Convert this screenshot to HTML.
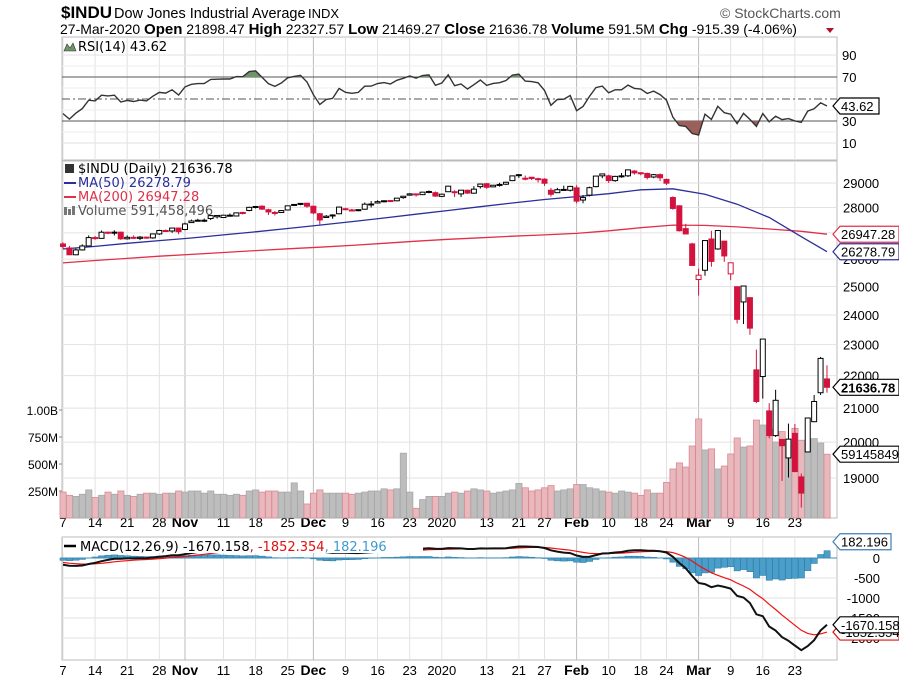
<!DOCTYPE html>
<html><head><meta charset="utf-8"><style>
body{margin:0;background:#fff;}
svg{display:block;font-family:"Liberation Sans",sans-serif;}
</style></head><body>
<svg id="chart" width="899" height="679" xmlns="http://www.w3.org/2000/svg"></svg>
<script>
const preCloses=[27076,27110,27147,27094,26935,26950,26808,26971,26892,26820,26917,26573,26079,26202,26573];
const closes=[26478,26164,26347,26497,26817,26787,27024,26998,27026,26770,26827,26788,26834,26806,26958,27091,27071,27186,27046,
27347,27462,27492,27493,27675,27681,27691,27691,27784,27782,28005,28036,27934,27821,27767,27876,28066,28122,28164,28051,
27783,27503,27650,27677,28015,27909,27881,27911,28132,28135,28235,28268,28239,28377,28455,28551,28515,28621,28645,28462,28538,
28868,28634,28703,28584,28745,28956,28823,28907,28940,29030,29297,29348,29196,29186,29160,28989,28535,28723,28734,28859,28256,
28399,28807,29290,29379,29103,29276,29276,29551,29423,29398,29232,29348,29219,28992,27961,27081,26957,25767,25409,
26703,25917,27091,26121,25865,23851,25018,23553,21201,23186,20189,21237,19899,20087,19174,18592,20705,21201,22552,21637];
const opens=[26573,26420,26164,26347,26497,26817,26787,27024,26998,27026,26770,26827,26788,26834,26806,26958,27091,27071,27186,
27130,27400,27462,27492,27560,27630,27600,27680,27660,27800,27880,28040,28050,27910,27800,27800,27900,28090,28150,28170,
28050,27750,27600,27700,27750,27950,27900,27880,27930,28140,28180,28270,28280,28270,28400,28500,28550,28520,28650,28600,28450,
28640,28640,28550,28700,28580,28850,28970,28840,28920,28950,29100,29320,29200,29240,29180,29160,28700,28600,28730,28700,28800,
28300,28500,28850,29300,29300,29100,29300,29300,29500,29430,29400,29250,29350,29150,28403,28067,27164,26575,25252,
25590,26763,26383,26680,25457,24993,24453,24604,22184,21973,20917,20189,20079,19553,20253,19029,19722,20596,21469,21898];
const highs=[26630,26500,26400,26560,26900,26880,27090,27050,27100,27040,26900,26900,26880,26850,26970,27120,27130,27200,27200,
27400,27520,27550,27560,27700,27700,27710,27760,27800,27830,28030,28060,28090,27950,27860,27900,28070,28140,28170,28180,
28060,27780,27700,27730,28040,27990,27950,27930,28200,28260,28290,28290,28300,28380,28460,28580,28560,28640,28690,28650,28560,
28880,28700,28710,28720,28870,28970,29000,28920,29010,29060,29300,29370,29310,29250,29220,29200,28800,28800,28890,28880,28900,
28500,28850,29300,29400,29350,29300,29420,29570,29540,29450,29430,29380,29400,29180,28450,28090,27350,26620,25650,
26710,27080,27100,26690,25870,24990,25020,24610,22840,23190,21150,21560,20080,20540,20530,19120,20720,21400,22600,22330];
const lows=[26400,26160,26150,26320,26480,26730,26780,26950,26900,26730,26740,26770,26720,26770,26770,26920,27040,27000,26950,
27100,27400,27440,27420,27500,27560,27600,27650,27650,27720,27850,27960,27900,27700,27680,27790,27890,28070,28090,27990,
27730,27330,27580,27550,27730,27900,27840,27850,27910,28000,28180,28200,28220,28250,28350,28480,28440,28510,28580,28430,28420,
28630,28420,28420,28550,28560,28770,28760,28830,28850,28920,29080,29210,29110,29120,29020,28880,28440,28590,28700,28650,28170,
28170,28450,28820,29200,29000,29050,29220,29250,29350,29320,29150,29200,29080,28920,27910,27050,26950,25760,24680,
25390,25720,26350,25900,25230,23710,23690,23330,21150,21290,20110,20150,18920,19010,19160,18210,19720,20580,21400,21470];
const volumes=[240,210,200,220,260,190,210,240,220,250,210,200,220,230,230,220,230,230,250,
240,250,250,230,250,220,220,210,220,210,250,260,240,250,250,240,240,325,250,130,
230,260,230,230,230,230,220,230,240,250,250,270,260,270,600,240,90,170,200,200,200,
230,240,230,250,270,260,250,230,240,250,260,320,280,250,260,280,300,250,260,270,310,
310,280,270,250,240,230,250,240,230,210,260,230,230,330,454,510,472,667,917,
630,640,454,481,593,741,657,667,907,861,820,704,800,700,830,720,720,735,694,591];
const ma50Idx=[0,5,10,15,20,25,30,35,40,45,50,55,60,65,70,75,80,85,90,95,100,105,110,115,119];
const ma50=[26380,26480,26600,26700,26800,26920,27040,27170,27300,27440,27580,27730,27880,28030,28180,28320,28440,28560,28720,28760,28540,28130,27600,26850,26279];
const ma200=[25860,25950,26030,26110,26180,26250,26320,26390,26450,26520,26600,26680,26750,26810,26870,26920,26980,27080,27200,27300,27290,27230,27150,27060,26947];
const dateLabels=["7","14","21","28","Nov","11","18","25","Dec","9","16","23","2020","13","21","27","Feb","10","18","24","Mar","9","16","23"];
const dateIdx=[0,5,10,15,19,25,30,35,39,44,49,54,59,66,71,75,80,85,90,94,99,104,109,114];
const priceTicks=[19000,20000,21000,22000,23000,24000,25000,26000,27000,28000,29000];
const volTicks=[250,500,750,1000];
const volTickLabels=["250M","500M","750M","1.00B"];
const rsiTicks=[10,30,50,70,90];
const macdTicks=[0,-500,-1000,-1500,-2000];

const svg=document.getElementById('chart');
const NS="http://www.w3.org/2000/svg";
const DV='"DejaVu Sans","Liberation Sans",sans-serif';
function mk(tag,attrs,parent){const e=document.createElementNS(NS,tag);for(const k in attrs)e.setAttribute(k,attrs[k]);(parent||svg).appendChild(e);return e;}
function txt(s,x,y,attrs,parent){const e=mk('text',Object.assign({x:x,y:y,'font-size':12,fill:'#000'},attrs||{}),parent);e.textContent=s;return e;}

const L=62,R=837;
const xOf=i=>63+i*6.42;
const yP=p=>183-Math.log(p/29000)*697.5;
const yV=v=>518-v*0.108;
const yR=v=>99-(v-50)*1.1;
const yM=v=>558-v*0.04;
const panels=[[37,160],[161,518],[537,660]];

panels.forEach((p,k)=>{const r=mk('rect',{x:L,y:p[0],width:R-L,height:p[1]-p[0],fill:'#fff',stroke:'#bbb'});

});

dateIdx.forEach((di,k)=>{const x=xOf(di);const month=isNaN(+dateLabels[k]);
panels.forEach(p=>mk('line',{x1:x,x2:x,y1:p[0],y2:p[1],stroke:month?'#bbb':'#e2e2e2','stroke-width':1}));
[527,675].forEach(yy=>{const t=txt(dateLabels[k],x,yy,{'text-anchor':'middle','font-size':month?14:13,'font-weight':month?'bold':'normal'});

});});

rsiTicks.forEach(v=>{const y=yR(v);
if(v===50)mk('line',{x1:L,x2:R,y1:y,y2:y,stroke:'#555','stroke-dasharray':'8,3,2,3'});
else mk('line',{x1:L,x2:R,y1:y,y2:y,stroke:(v===30||v===70)?'#555':'#e2e2e2'});
if(v!==50){const t=txt(String(v),842,y+5,{'font-size':13});

}
});
for(let v=20;v<=80;v+=20){mk('line',{x1:L,x2:R,y1:yR(v),y2:yR(v),stroke:'#eee'});}
const all=preCloses.concat(closes);const off=preCloses.length;
let ag=0,al=0;const rsi=[];
for(let i=1;i<all.length;i++){const d=all[i]-all[i-1];const g=Math.max(d,0),l=Math.max(-d,0);
if(i<=14){ag+=g/14;al+=l/14;}else{ag=(ag*13+g)/14;al=(al*13+l)/14;}
if(i>=14)rsi[i]=100-100/(1+ag/(al||1e-9));}
const rsiPts=closes.map((c,i)=>[xOf(i),yR(rsi[i+off])]);
const defs=mk('defs',{});
const c1=mk('clipPath',{id:'above70'},defs);mk('rect',{x:L,y:37,width:R-L,height:yR(70)-37},c1);
const c2=mk('clipPath',{id:'below30'},defs);mk('rect',{x:L,y:yR(30),width:R-L,height:160-yR(30)},c2);
const lineStr=rsiPts.map(p=>p[0].toFixed(1)+','+p[1].toFixed(1)).join(' ');
const a1=mk('polygon',{points:xOf(0)+','+yR(70)+' '+lineStr+' '+xOf(closes.length-1)+','+yR(70),fill:'#6f9468','clip-path':'url(#above70)'});

const a2=mk('polygon',{points:xOf(0)+','+yR(30)+' '+lineStr+' '+xOf(closes.length-1)+','+yR(30),fill:'#9c5f5a','clip-path':'url(#below30)'});

const rl=mk('polyline',{points:lineStr,fill:'none',stroke:'#333','stroke-width':1.4});

const rsiLast=rsi[all.length-1];

priceTicks.forEach(p=>{const y=yP(p);mk('line',{x1:L,x2:R,y1:y,y2:y,stroke:'#e2e2e2'});
const t=txt(String(p),843,y+5,{'font-size':13});
});
volTicks.forEach((v,k)=>{const y=yV(v);
const t=txt(volTickLabels[k],58,y+5,{'font-size':12,'text-anchor':'end'});

mk('line',{x1:L-3,x2:L,y1:y,y2:y,stroke:'#888'});});

volumes.forEach((v,i)=>{const down=i>0?closes[i]<closes[i-1]:closes[i]<preCloses[preCloses.length-1];
const b=mk('rect',{x:xOf(i)-3,y:yV(v),width:6.2,height:518-yV(v),fill:down?'#e8b8bc':'#bdbdbd',stroke:down?'#d98a94':'#a8a8a8','stroke-width':0.8});
});

function ptsMA(arr){return arr.map((v,k)=>xOf(ma50Idx[k]).toFixed(1)+','+yP(v).toFixed(1)).join(' ');}
const m200=mk('polyline',{points:ptsMA(ma200),fill:'none',stroke:'#e0304a','stroke-width':1.3});

const m50=mk('polyline',{points:ptsMA(ma50),fill:'none',stroke:'#2a2f9a','stroke-width':1.3});


closes.forEach((c,i)=>{const prev=i>0?closes[i-1]:preCloses[preCloses.length-1];const col=c<prev?'#d3123e':'#000';
const x=xOf(i),o=opens[i];
const g=mk('g',{});

mk('line',{x1:x,x2:x,y1:yP(highs[i]),y2:yP(lows[i]),stroke:col,'stroke-width':1},g);
const top=yP(Math.max(o,c)),bot=yP(Math.min(o,c));
mk('rect',{x:x-2.5,y:top,width:5,height:Math.max(bot-top,1),fill:c>o?'#fff':col,stroke:col,'stroke-width':1},g);});

const lg=[["$INDU (Daily) 21636.78",'#000',173],["MA(50) 26278.79",'#2a2f9a',187],["MA(200) 26947.28",'#e0304a',201],["Volume 591,458,496",'#555',215]];
lg.forEach((l,k)=>{const t=txt(l[0],78,l[2],{fill:l[1],'font-size':13,'font-family':DV});

if(k===1||k===2)mk('line',{x1:64,x2:76,y1:l[2]-4,y2:l[2]-4,stroke:l[1],'stroke-width':2});});
mk('rect',{x:65,y:164,width:9,height:9,fill:'#333'});
mk('rect',{x:64,y:207,width:3,height:8,fill:'#777'});mk('rect',{x:68,y:209,width:3,height:6,fill:'#777'});mk('rect',{x:72,y:206,width:3,height:9,fill:'#777'});

macdTicks.forEach(v=>{const y=yM(v);mk('line',{x1:L,x2:R,y1:y,y2:y,stroke:'#e2e2e2'});
const t=txt(String(v),880,y+5,{'font-size':13,'text-anchor':'end'});
});
let e12=all[0],e26=all[0],sig=0;const macd=[],signal=[];
for(let i=0;i<all.length;i++){e12=e12+(all[i]-e12)*2/13;e26=e26+(all[i]-e26)*2/27;const m=e12-e26;sig=sig+(m-sig)*0.2;macd.push(m);signal.push(sig);}
closes.forEach((c,i)=>{const h=macd[i+off]-signal[i+off];const y0=yM(0),y1=yM(h);
const b=mk('rect',{x:xOf(i)-3,y:Math.min(y0,y1),width:6.2,height:Math.abs(y1-y0),fill:'#4a9ec9',stroke:'#2f7fa8','stroke-width':0.6});
});
mk('line',{x1:L,x2:R,y1:yM(0),y2:yM(0),stroke:'#3d8fb8','stroke-width':1});
const sp=mk('polyline',{points:closes.map((c,i)=>xOf(i).toFixed(1)+','+yM(signal[i+off]).toFixed(1)).join(' '),fill:'none',stroke:'#f01010','stroke-width':1.2});

const mp=mk('polyline',{points:closes.map((c,i)=>xOf(i).toFixed(1)+','+yM(macd[i+off]).toFixed(1)).join(' '),fill:'none',stroke:'#111','stroke-width':2});

mk('rect',{x:63,y:538,width:360,height:15,fill:'#fff'});
mk('line',{x1:64,x2:76,y1:546,y2:546,stroke:'#000','stroke-width':2.5});
const mt=mk('text',{x:80,y:551,'font-size':13,'font-family':DV});

[["MACD(12,26,9) -1670.158",'#000'],[", -1852.354",'#e01010'],[", 182.196",'#3d9ad0']].forEach(s=>{const ts=mk('tspan',{fill:s[1]},mt);ts.textContent=s[0];});

function tag(label,y,col,bold,w){const g=mk('g',{});

const x=R-4;mk('polygon',{points:`${x},${y} ${x+7},${y-8} ${x+w},${y-8} ${x+w},${y+8} ${x+7},${y+8}`,fill:'#fff',stroke:col,'stroke-width':1.2},g);
txt(label,x+8,y+5,{'font-size':13,'font-weight':bold?'bold':'normal',fill:'#000'},g);}
tag(rsiLast.toFixed(2),yR(rsiLast),'#000',false,46);
tag('26947.28',yP(26947),'#e0304a',false,66);
tag('26278.79',yP(26279),'#2a2f9a',false,66);
tag('21636.78',yP(closes[closes.length-1]),'#000',true,66);
tag('59145849',yV(591),'#000',false,66);
tag('182.196',yM(182)-9,'#3d7fb8',false,58);
tag('-1852.354',yM(-1852),'#e01010',false,66);
tag('-1670.158',yM(-1670),'#000',false,66);

const h1=txt('$INDU',61,18,{'font-size':17,'font-weight':'bold'});
const h2=txt('Dow Jones Industrial Average',114,18,{'font-size':14.5});
txt('INDX',308,18,{'font-size':13});
const cp=txt('© StockCharts.com',720,18,{'font-size':14,fill:'#555'});
const q=mk('text',{x:60,y:34,'font-size':14});
[['27-Mar-2020     ',0],['Open',1],[' 21898.47  ',0],['High',1],[' 22327.57  ',0],['Low',1],[' 21469.27  ',0],['Close',1],[' 21636.78  ',0],['Volume',1],[' 591.5M  ',0],['Chg',1],[' -915.39 (-4.06%) ',0]].forEach(s=>{const t=mk('tspan',{'font-weight':s[1]?'bold':'normal','font-size':s[1]?15:14},q);t.textContent=s[0];});
mk('polygon',{points:'826,28 834,28 830,33',fill:'#b0102a'});
const rt=txt('RSI(14) 43.62',78,51,{'font-size':13,'font-family':DV});
mk('polygon',{points:'64,51 67,44 70,48 73,43 76,51',fill:'#6f9468',stroke:'#333','stroke-width':0.6});
</script>
</body></html>
